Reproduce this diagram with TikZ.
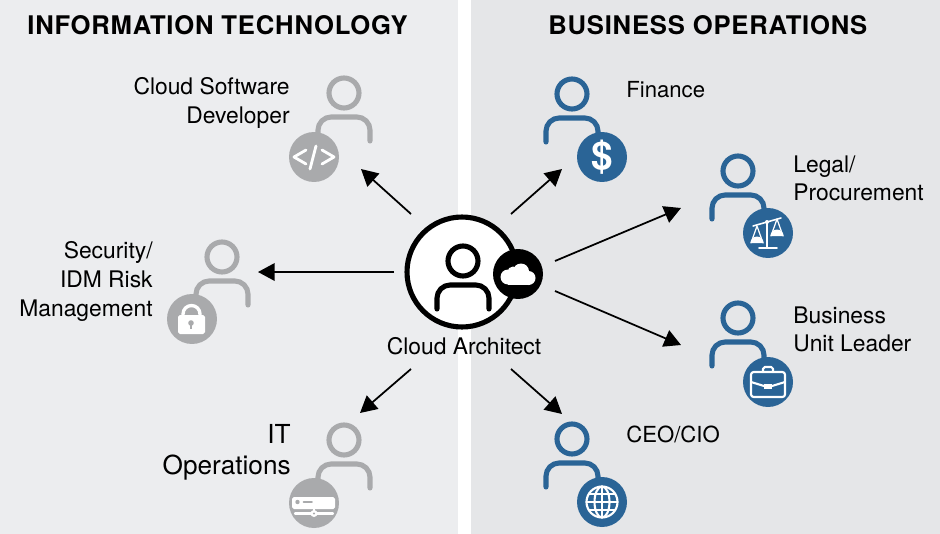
\documentclass[tikz,border=0pt]{standalone}
\usepackage{fontspec}
\setmainfont{TeX Gyre Heros}
\newfontfamily\headfont[LetterSpace=3]{TeX Gyre Heros}
\usetikzlibrary{arrows.meta}
\definecolor{leftpanel}{HTML}{ECEDEF}
\definecolor{rightpanel}{HTML}{E5E6E8}
\definecolor{itgrey}{HTML}{A9AAAC}
\definecolor{bizblue}{HTML}{2A6496}
\newcommand{\personbody}[3]{
    \draw[figure={#3}] (#1, #2) circle (15);
    \draw[figure={#3}, rounded corners=7.5pt] (#1-26, #2+48) -- (#1-26, #2+24) -- (#1+26, #2+24) -- (#1+26, #2+48);
}
\begin{document}
\begin{tikzpicture}[x=0.02cm, y=-0.02cm]
                \tikzstyle{panel} = [draw=none]
                \tikzstyle{figure} = [line width=2.9pt, line cap=round, color={#1}]
                \tikzstyle{badge} = [circle, fill={#1}, minimum size=1cm, inner sep=0pt]
                \tikzstyle{heading} = [anchor=west, inner sep=0pt, font=\headfont\fontsize{14.6}{17}\selectfont\bfseries]
                \tikzstyle{caption} = [font=\fontsize{13}{16}\selectfont, inner sep=0pt]
                \tikzstyle{shortcaption} = [font=\fontsize{12.6}{16}\selectfont, inner sep=0pt]
                \tikzstyle{bigcaption} = [font=\fontsize{14.9}{17.6}\selectfont, inner sep=0pt]
                \tikzstyle{link} = [line width=1pt, -{Triangle[length=9.5pt, width=10pt]}]
                \tikzstyle{icon} = [white, line width=1.2pt, line cap=round, line join=round]
                \useasboundingbox (0, 0) rectangle (940, 534);
                \fill[panel, leftpanel] (0, 0) rectangle (458, 534);
                \fill[panel, rightpanel] (471, 0) rectangle (940, 534);
                \node[heading] (ithead) at (27, 25) {INFORMATION TECHNOLOGY};
                \node[heading] (bizhead) at (548, 25) {BUSINESS OPERATIONS};
                % people on the left
                \personbody{344}{93}{itgrey}
                \personbody{222}{257}{itgrey}
                \personbody{344}{440}{itgrey}
                \node[badge=itgrey] (developer) at (314, 157) {};
                \node[badge=itgrey] (security) at (192, 319) {};
                \node[badge=itgrey] (operations) at (314, 503) {};
                % people on the right
                \personbody{572}{94}{bizblue}
                \personbody{738}{171}{bizblue}
                \personbody{738}{318}{bizblue}
                \personbody{572}{439}{bizblue}
                \node[badge=bizblue] (finance) at (602, 157) {};
                \node[badge=bizblue] (legal) at (768, 233) {};
                \node[badge=bizblue] (business) at (768, 382) {};
                \node[badge=bizblue] (ceo) at (602, 502) {};
                % code icon
                \begin{scope}[shift={(developer.center)}]
                    \draw[icon, line width=1.6pt] (-8, -7) -- (-20, 0) -- (-8, 7);
                    \draw[icon, line width=1.6pt] (8, -7) -- (20, 0) -- (8, 7);
                    \draw[icon, line width=1.6pt] (2, -11) -- (-4, 12);
                \end{scope}
                % lock icon
                \begin{scope}[shift={(security.center)}]
                    \draw[icon, line width=1.9pt] (-9, -3) -- (-9, -5) arc(180:360:8.5 and 8.5) -- (8, -3);
                    \fill[white, rounded corners=1pt] (-14, -4) rectangle (13, 15);
                    \fill[itgrey] (-1, 4) circle (2.8);
                    \draw[itgrey, line width=1pt] (-1, 4) -- (-1, 10);
                \end{scope}
                % server icon
                \begin{scope}[shift={(operations.center)}]
                    \fill[white, rounded corners=1pt] (-22, -6) rectangle (21, 6);
                    \fill[itgrey] (-16.5, -1) circle (2.2);
                    \draw[itgrey, line width=1.1pt, line cap=round] (-10.5, -1) -- (-2, -1);
                    \draw[icon] (0, 6) -- (0, 10);
                    \draw[icon] (-19, 10.5) -- (19, 10.5);
                    \fill[white] (0, 10.5) circle (3.5);
                    \fill[itgrey] (0, 10.5) circle (1.2);
                \end{scope}
                % dollar icon
                \node[white, inner sep=0pt, font=\fontsize{22}{24}\selectfont\bfseries] (dollar) at (finance.center) {\$};
                % scales icon
                \begin{scope}[shift={(legal.center)}]
                    \draw[icon, line width=0.9pt] (-1, -11) -- (-1, 15);
                    \draw[icon, line width=0.9pt] (-9, 15) -- (9, 15);
                    \draw[icon, line width=0.9pt] (-15, -7) -- (13, -15);
                    \draw[icon, line width=0.7pt] (-17, 10) -- (-11, -7) -- (-5, 10);
                    \draw[icon, line width=0.7pt] (3, 3) -- (9, -14) -- (15, 3);
                    \fill[white] (-17.5, 10) arc(180:0:6.5 and -6.5) -- cycle;
                    \fill[white] (2.5, 3) arc(180:0:6.5 and -6.5) -- cycle;
                    \fill[white] (-1, -11) circle (2);
                \end{scope}
                % briefcase icon
                \begin{scope}[shift={(business.center)}]
                    \draw[icon, rounded corners=1.5pt] (-17, -10) rectangle (17, 15);
                    \draw[icon, rounded corners=1pt] (-5, -10) -- (-5, -15) -- (5, -15) -- (5, -10);
                    \draw[icon] (-17, 0) -- (-4, 4);
                    \draw[icon] (4, 4) -- (17, 0);
                    \fill[white] (-4, 1.5) rectangle (4, 6.5);
                \end{scope}
                % globe icon
                \begin{scope}[shift={(ceo.center)}]
                    \draw[icon] (0, 0) circle (15.5);
                    \draw[icon] (0, 0) ellipse (7.5 and 15.5);
                    \draw[icon] (0, -15.5) -- (0, 15.5);
                    \draw[icon] (-15.5, 0) -- (15.5, 0);
                    \draw[icon] (-13, -8) -- (13, -8);
                    \draw[icon] (-13, 8) -- (13, 8);
                \end{scope}
                % the architect in the middle
                \node[circle, draw=black, fill=white, line width=2.9pt, minimum size=2.2cm, inner sep=0pt] (architect) at (462, 272) {};
                \personbody{463}{261}{black}
                \node[badge=black] (cloudbadge) at (518, 274) {};
                \begin{scope}[shift={(cloudbadge.center)}]
                    \fill[white] (-10, 3) circle (7.5);
                    \fill[white] (-5, -2) circle (5.5);
                    \fill[white] (3, -2.5) circle (8);
                    \fill[white] (10.5, 4) circle (7);
                    \fill[white] (-10, 2) rectangle (10.5, 10.5);
                \end{scope}
                \node[caption] (architectname) at (464, 346) {Cloud Architect};
                % labels
                \node[caption, anchor=east, align=right] (developername) at (290, 103) {Cloud Software\\Developer};
                \node[caption, anchor=east, align=right] (securityname) at (153, 281) {Security/\\[0.5pt]IDM Risk\\[0.5pt]Management};
                \node[bigcaption, anchor=east, align=right] (operationsname) at (291, 452) {IT\\Operations};
                \node[shortcaption, anchor=west] (financename) at (626, 90) {Finance};
                \node[caption, anchor=west, align=left] (legalname) at (793, 178) {Legal/\\Procurement};
                \node[caption, anchor=west, align=left] (businessname) at (793, 329) {Business\\Unit Leader};
                \node[shortcaption, anchor=west] (ceoname) at (626, 434) {CEO/CIO};
                % arrow ends
                \coordinate (developertail) at (411, 214);
                \coordinate (developertip) at (361, 169);
                \coordinate (securitytail) at (394, 272);
                \coordinate (securitytip) at (258, 272);
                \coordinate (operationstail) at (411, 369);
                \coordinate (operationstip) at (360, 413);
                \coordinate (financetail) at (511, 214);
                \coordinate (financetip) at (562, 169);
                \coordinate (legaltail) at (555, 261);
                \coordinate (legaltip) at (681, 208);
                \coordinate (businesstail) at (555, 291);
                \coordinate (businesstip) at (681, 345);
                \coordinate (ceotail) at (511, 369);
                \coordinate (ceotip) at (562, 414);
                \draw[link] (developertail) -- (developertip);
                \draw[link] (securitytail) -- (securitytip);
                \draw[link] (operationstail) -- (operationstip);
                \draw[link] (financetail) -- (financetip);
                \draw[link] (legaltail) -- (legaltip);
                \draw[link] (businesstail) -- (businesstip);
                \draw[link] (ceotail) -- (ceotip);
            \end{tikzpicture}
\end{document}
